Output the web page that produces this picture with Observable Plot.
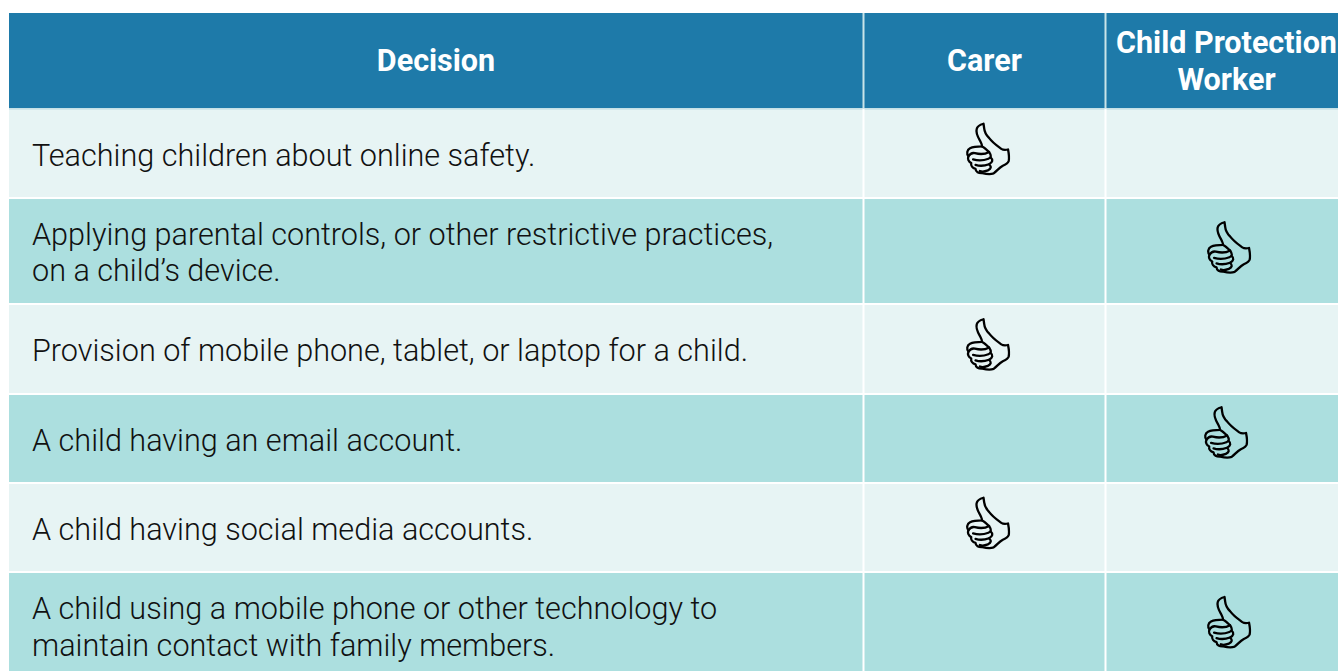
<!DOCTYPE html>
<html><head><meta charset="utf-8">
<script src="https://cdn.jsdelivr.net/npm/d3@7"></script>
<script src="https://cdn.jsdelivr.net/npm/@observablehq/plot@0.6"></script>
<style>html,body{margin:0;padding:0;background:#fff}svg{display:block}</style>
</head><body><div id="chart"></div>
<script>
const columns = ["Decision", "Carer", "Child Protection\nWorker"];
const decisions = [
  "Teaching children about online safety.",
  "Applying parental controls, or other restrictive practices,\non a child’s device.",
  "Provision of mobile phone, tablet, or laptop for a child.",
  "A child having an email account.",
  "A child having social media accounts.",
  "A child using a mobile phone or other technology to\nmaintain contact with family members."
];
const decidedBy = ["Carer", "Child Protection\nWorker", "Carer", "Child Protection\nWorker", "Carer", "Child Protection\nWorker"];

// layout of the table, in picture units
const colEdges = [9, 863, 1105, 1338];
const rowEdges = [13, 108.5, 197.5, 303.5, 393.5, 482.5, 571.5, 671];
const headerNudge = [-0.5, 0, 4.5];
const textNudge = [1.5, 1.5, 1, 1.5, 1.5, 5];
const thumbNudge = [[0,-1],[5.5,0],[0,-1],[2.5,-2.5],[0,-1],[5.5,4]];

const headerCells = columns.map((c, i) => ({c, i, x1: colEdges[i], x2: colEdges[i+1], y1: rowEdges[0], y2: rowEdges[1]}));
const bodyCells = decisions.flatMap((d, r) => columns.map((c, i) => ({
  r, x1: colEdges[i], x2: colEdges[i+1], y1: rowEdges[r+1], y2: rowEdges[r+2]
})));
const rowLabels = decisions.map((d, r) => ({d, x: 31.5, y: (rowEdges[r+1] + rowEdges[r+2]) / 2 - 1 + textNudge[r]}));
const thumbs = decidedBy.map((c, r) => {
  const i = columns.indexOf(c);
  return {x: (colEdges[i] + colEdges[i+1]) / 2 + 3 - (i === 2 ? 2 : 0) + thumbNudge[r][0],
          y: (rowEdges[r+1] + rowEdges[r+2]) / 2 - 3 + thumbNudge[r][1]};
});

const thumbSvg = `<svg xmlns="http://www.w3.org/2000/svg" viewBox="0 0 150 180"><g fill="none" stroke="black" stroke-width="7.5" stroke-linejoin="round" stroke-linecap="round"><path d="M62 6 C52 9 42 14 40 22 C36 36 44 50 50 60 C54 68 58 76 57 80 C44 80 28 81 18 86 C8 91 6 104 13 112 C9 120 13 130 22 134 C20 142 26 150 36 153 C36 163 46 168 58 167 C70 170 84 172 95 168 C106 160 112 150 125 143 C136 138 142 134 144 128 C147 116 144 100 142 90 C134 92 126 92 120 88 C104 76 92 68 80 52 C68 40 65 30 64 20 Z"/><path d="M57 80 C66 84 74 92 80 98 C70 104 50 106 34 102 C26 100 18 104 13 112"/><path d="M80 98 C88 110 88 116 78 120 C62 126 42 126 28 122"/><path d="M85 116 C94 124 92 132 80 138 C64 144 48 144 36 140"/><path d="M80 138 C88 146 88 152 76 158 C66 162 58 164 50 160"/></g></svg>`;
const thumbSrc = "data:image/svg+xml;utf8," + encodeURIComponent(thumbSvg);

const font = "Roboto, sans-serif";
const plot = Plot.plot({
  width: 1338, height: 671, margin: 0,
  x: {domain: [0, 1338], range: [0, 1338], axis: null},
  y: {domain: [0, 671], range: [0, 671], axis: null},
  marks: [
    Plot.rect(headerCells, {x1: "x1", x2: "x2", y1: "y1", y2: "y2", fill: "#1e7aa9"}),
    Plot.rect(bodyCells, {x1: "x1", x2: "x2", y1: "y1", y2: "y2", fill: d => d.r % 2 ? "#acdfdf" : "#e7f4f4"}),
    Plot.ruleY(rowEdges.slice(2, -1), {x1: colEdges[0], x2: colEdges[3], stroke: "#fff", strokeWidth: 2}),
    Plot.ruleY(rowEdges.slice(1, 2), {x1: colEdges[0], x2: colEdges[3], stroke: "#c9e4e8", strokeWidth: 1.5}),
    Plot.ruleX(colEdges.slice(1, 3), {y1: rowEdges[1], y2: rowEdges[7], stroke: "#fff", strokeWidth: 2}),
    Plot.ruleX(colEdges.slice(1, 3), {y1: rowEdges[0], y2: rowEdges[1], stroke: "#c9e4e8", strokeWidth: 2}),
    Plot.text(headerCells, {x: d => (d.x1 + d.x2) / 2 + headerNudge[d.i], y: d => (d.y1 + d.y2) / 2 - 2, text: "c", fill: "#fff",
      fontFamily: font, fontWeight: 700, fontSize: 30.5, lineHeight: 1.23, lineAnchor: "middle"}),
    Plot.text(rowLabels, {x: "x", y: "y", text: "d", fill: "#111", textAnchor: "start",
      fontFamily: font, fontWeight: 300, fontSize: 30.6, lineHeight: 1.19, lineAnchor: "middle"}),
    Plot.image(thumbs, {x: "x", y: "y", src: () => thumbSrc, width: 46, height: 60})
  ]
});
document.getElementById("chart").append(plot);
</script></body></html>
